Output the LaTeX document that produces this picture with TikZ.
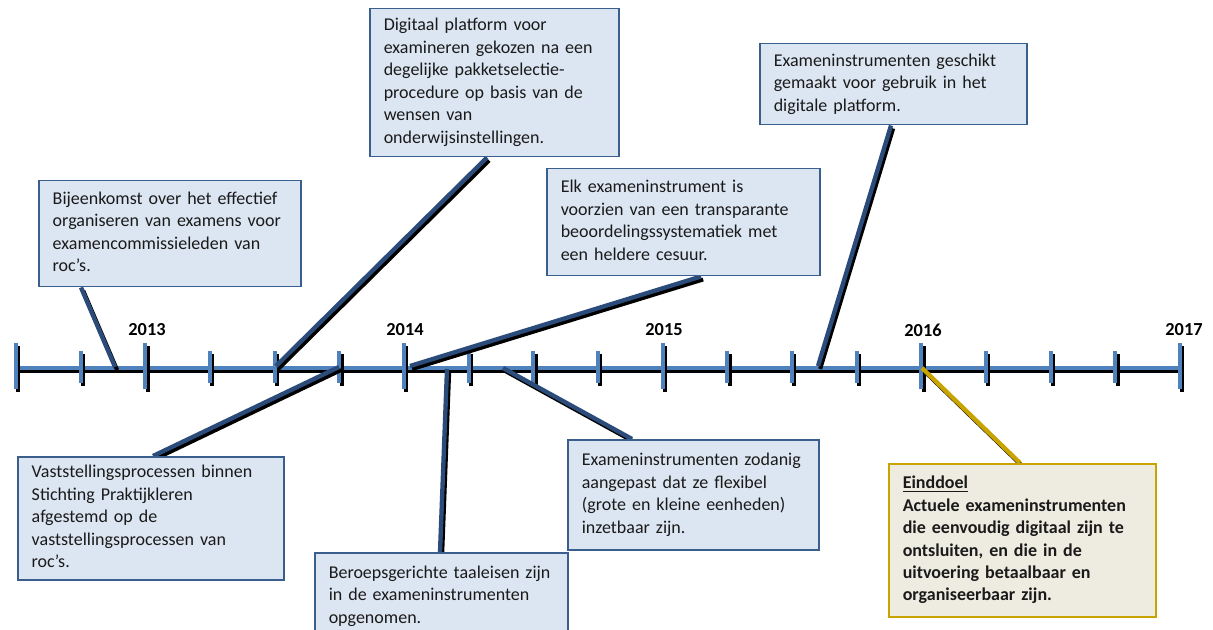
\documentclass[tikz,border=0pt]{standalone}
\usepackage{fontspec}
\setmainfont{Carlito}
\usetikzlibrary{calc}
\definecolor{tlblue}{HTML}{4F81BD}
\definecolor{conblue}{HTML}{2B4C7A}
\definecolor{boxfill}{HTML}{DCE6F2}
\definecolor{boxdraw}{HTML}{3A5F8C}
\definecolor{goalfill}{HTML}{EEECE1}
\definecolor{goaldraw}{HTML}{C9A400}
\definecolor{textc}{HTML}{1A1A1A}
\pgfdeclarelayer{bg}
\pgfdeclarelayer{mid}
\pgfsetlayers{bg,mid,main}
\tikzset{
  shadowline/.style={draw=black, line width=2.4pt, transform canvas={shift={(1.3pt,-1.8pt)}}},
  tline/.style={draw=tlblue, line width=2.4pt},
  conn/.style={draw=conblue, line width=2.6pt},
  goalconn/.style={draw=goaldraw, line width=2.6pt},
  box/.style={draw=boxdraw, fill=boxfill, line width=0.9pt, anchor=north west,
    align=left, inner xsep=8.4pt, inner ysep=0pt, text=textc,
    font=\fontsize{10.8}{13.5}\selectfont},
  goalbox/.style={box, draw=goaldraw, fill=goalfill, font=\fontsize{10.8}{13.5}\selectfont\bfseries},
  year/.style={font=\fontsize{11}{13}\selectfont\bfseries, text=black}
}
\begin{document}
\begin{tikzpicture}[x=0.6pt,y=-0.6pt]
\useasboundingbox (0,0) rectangle (1213,630);
\begin{pgfonlayer}{bg}
\fill[white] (0,0) rectangle (1213,630);
\end{pgfonlayer}

% boxes
\node[box, text width=140.4pt, minimum height=63.6pt] (b1) at (38,180)
 {\begin{tabular}{@{}l@{}}Bijeenkomst over het effectief\\organiseren van examens voor\\examencommissieleden van\\roc’s.\end{tabular}};
\node[box, text width=132.6pt, minimum height=88.8pt] (b2) at (369,8)
 {\begin{tabular}{@{}l@{}}Digitaal platform voor\\examineren gekozen na een\\degelijke pakketselectie-\\procedure op basis van de\\wensen van\\onderwijsinstellingen.\end{tabular}};
\node[box, text width=143.4pt, minimum height=48.6pt] (b3) at (759,43)
 {\begin{tabular}{@{}l@{}}Exameninstrumenten geschikt\\gemaakt voor gebruik in het\\digitale platform.\end{tabular}};
\node[box, text width=147pt, minimum height=64.2pt] (b4) at (546,168)
 {\begin{tabular}{@{}l@{}}Elk exameninstrument is\\voorzien van een transparante\\beoordelingssystematiek met\\een heldere cesuur.\end{tabular}};
\node[box, text width=142.8pt, minimum height=73.8pt] (b5) at (17,456)
 {\begin{tabular}{@{}l@{}}Vaststellingsprocessen binnen\\Stichting Praktijkleren\\afgestemd op de\\vaststellingsprocessen van\\roc’s.\end{tabular}};
\node[box, text width=135pt, minimum height=52.2pt] (b6) at (314,552)
 {\begin{tabular}{@{}l@{}}Beroepsgerichte taaleisen zijn\\in de exameninstrumenten\\opgenomen.\end{tabular}};
\node[box, text width=133.8pt, minimum height=66pt] (b7) at (567,439)
 {\begin{tabular}{@{}l@{}}Exameninstrumenten zodanig\\aangepast dat ze flexibel\\(grote en kleine eenheden)\\inzetbaar zijn.\end{tabular}};
\node[goalbox, text width=143.4pt, minimum height=91.8pt] (b8) at (888,463)
 {\begin{tabular}{@{}l@{}}\underline{Einddoel}\\Actuele exameninstrumenten\\die eenvoudig digitaal zijn te\\ontsluiten, en die in de\\uitvoering betaalbaar en\\organiseerbaar zijn.\end{tabular}};

% timeline
\coordinate (tl0) at (16,368);
\coordinate (tl18) at (1180,368);
\begin{pgfonlayer}{bg}
\draw[shadowline] (tl0) -- (tl18);
\draw[tline] (tl0) -- (tl18);
\foreach \k in {0,...,18}{
  \pgfmathsetmacro{\xx}{16+\k*64.667}
  \pgfmathsetmacro{\ya}{(\k==0||\k==2||\k==6||\k==10||\k==14||\k==18) ? 343 : 351}
  \pgfmathsetmacro{\yb}{(\k==0||\k==2||\k==6||\k==10||\k==14||\k==18) ? 389 : 383}
  \draw[shadowline] (\xx,\ya) -- (\xx,\yb);
  \draw[tline] (\xx,\ya) -- (\xx,\yb);
}
\end{pgfonlayer}
\node[year] (y13) at (147,330) {2013};
\node[year] (y14) at (405,330) {2014};
\node[year] (y15) at (664,330) {2015};
\node[year] (y16) at (923,330) {2016};
\node[year] (y17) at (1184,330) {2017};

% connector ends on the timeline
\coordinate (pA) at (115,367);
\coordinate (pB) at (276,366);
\coordinate (pC) at (818,366);
\coordinate (pD) at (410,366);
\coordinate (pE) at (339,367);
\coordinate (pF) at (447,369);
\coordinate (pG) at (503,368);
\coordinate (pH) at (922,368);
% connector ends on the boxes
\coordinate (qA) at ($(b1.south west)+(43,0)$);
\coordinate (qB) at ($(b2.south west)+(118,0)$);
\coordinate (qC) at ($(b3.south west)+(132,0)$);
\coordinate (qD) at ($(b4.south west)+(155,0)$);
\coordinate (qE) at ($(b5.north west)+(136,0)$);
\coordinate (qF) at ($(b6.north west)+(126,0)$);
\coordinate (qG) at ($(b7.north west)+(65,0)$);
\coordinate (qH) at ($(b8.north west)+(132,0)$);

\begin{pgfonlayer}{mid}
\foreach \a/\b in {qA/pA,qB/pB,qC/pC,qD/pD,qE/pE,qF/pF,qG/pG,qH/pH}{
  \draw[shadowline] (\a) -- (\b);
}
\draw[conn] (qA) -- (pA);
\draw[conn] (qB) -- (pB);
\draw[conn] (qC) -- (pC);
\draw[conn] (qD) -- (pD);
\draw[conn] (qE) -- (pE);
\draw[conn] (qF) -- (pF);
\draw[conn] (qG) -- (pG);
\draw[goalconn] (qH) -- (pH);
\end{pgfonlayer}
\end{tikzpicture}
\end{document}
